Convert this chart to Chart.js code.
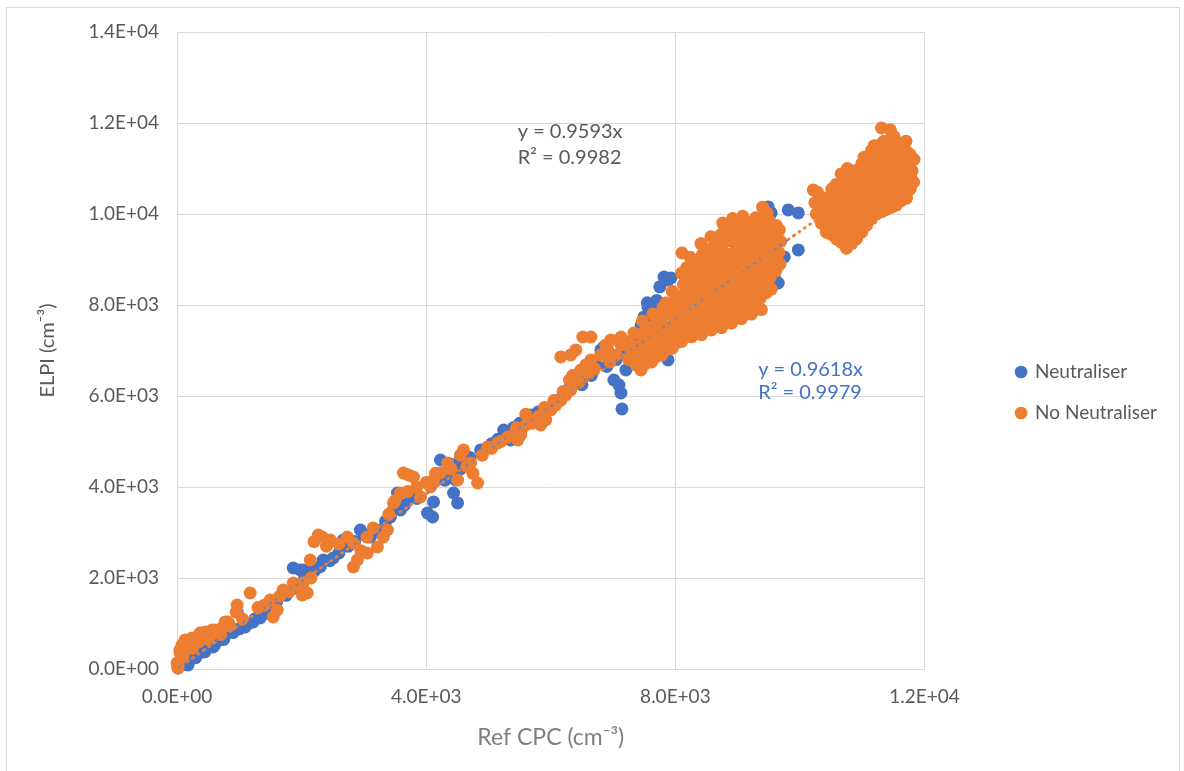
<!DOCTYPE html>
<html><head><meta charset="utf-8">
<script src="https://cdn.jsdelivr.net/npm/chart.js@4/dist/chart.umd.min.js"></script>
<style>
html,body{margin:0;padding:0;background:#fff;overflow:hidden}
#wrap{position:relative;width:1184px;height:771px}
#frame{position:absolute;left:6px;top:7px;width:1174px;height:790px;border:1px solid #d9d9d9;box-sizing:border-box}
canvas{position:absolute;left:0;top:0}
</style></head><body>
<div id="wrap"><div id="frame"></div><canvas id="c" width="1184" height="771"></canvas></div>
<script>
// ---- data (Ref CPC, ELPI) ----
const seriesNames = ['Neutraliser', 'No Neutraliser'];
const neutraliser = [
[16,22],[80,88],[129,198],[177,88],[209,308],[257,242],[290,418],[300,250],[370,462],[418,374],[450,528],[450,380],[579,484],[563,637],[600,520],[660,703],[692,637],[750,650],[772,791],[853,857],[900,800],[965,1253],[1000,880],[1094,923],[1150,1000],[1222,1033],[1250,1100],[1335,1121],[1399,1209],[1450,1330],[1560,1430],[1600,1480],[1700,1650],[1750,1620],[1866,2220],[1900,1780],[1978,2176],[2027,2176],[2050,2000],[2139,2132],[2200,2150],[2300,2250],[2348,2396],[2450,2380],[2509,2440],[2600,2550],[2670,2835],[2750,2700],[2783,2791],[2850,2800],[2944,3055],[3000,2950],[3104,2901],[3150,3050],[3265,3055],[3350,3250],[3426,3341],[3450,3450],[3539,3868],[3587,3495],[3650,3600],[3748,3781],[3850,3750],[4021,3429],[4102,3341],[4118,3671],[4230,4594],[4300,4150],[4400,4500],[4423,4374],[4439,3868],[4472,4154],[4504,3649],[4550,4400],[4552,4660],[4632,4594],[4700,4650],[4874,4814],[4900,4750],[5050,4950],[5150,5050],[5244,5253],[5356,5033],[5400,5300],[5500,5400],[5517,5209],[5600,5500],[5678,5583],[5758,5473],[5800,5650],[5919,5693],[6000,5737],[6100,5900],[6161,5913],[6250,6100],[6321,6242],[6402,6352],[6500,6250],[6563,6462],[6650,6450],[6724,6682],[6804,7012],[6852,7078],[6884,6902],[6900,6650],[7013,6352],[7050,6800],[7094,6242],[7126,6066],[7142,5715],[7200,6950],[7206,6572],[7335,6858],[7400,7300],[7450,7550],[7496,7737],[7528,7451],[7550,8050],[7560,7957],[7608,7671],[7650,7900],[7700,8100],[7750,8400],[7817,8616],[7882,8550],[7882,6792],[7930,8594],[8091,7891],[8252,8110],[8573,8330],[8734,8550],[8895,8770],[9056,9210],[9217,9430],[9377,8660],[9490,10155],[9506,9605],[9538,10023],[9587,8616],[9651,8484],[9748,9056],[9812,10089],[9973,10023],[9973,9210]
];
const noNeutraliser = [
[0,132],[16,22],[48,198],[48,352],[48,418],[80,528],[100,300],[129,637],[161,571],[177,528],[241,681],[250,450],[306,637],[350,600],[370,791],[450,813],[500,650],[531,725],[563,857],[611,857],[650,800],[700,760],[724,901],[772,1033],[820,1033],[850,950],[949,1253],[965,1407],[1050,1100],[1174,1670],[1300,1350],[1400,1400],[1496,1517],[1544,1143],[1608,1297],[1650,1600],[1705,1736],[1800,1700],[1866,1890],[1978,1802],[2011,1627],[2027,1890],[2091,1670],[2139,2396],[2150,2000],[2200,2800],[2268,2945],[2332,2901],[2400,2700],[2461,2835],[2600,2750],[2734,2901],[2831,2242],[2831,2769],[2895,2396],[2950,2600],[3050,2900],[3056,2550],[3150,3100],[3217,2682],[3313,2901],[3378,3055],[3400,3400],[3474,3649],[3500,3700],[3587,3868],[3635,4308],[3700,3900],[3716,4264],[3796,4220],[3850,4000],[3909,3781],[4000,4100],[4070,4000],[4118,4154],[4150,4300],[4230,4308],[4343,4528],[4400,4400],[4504,4154],[4550,4700],[4600,4814],[4650,4450],[4713,4528],[4750,4300],[4826,4088],[4900,4700],[4986,4880],[5050,4850],[5147,4968],[5200,5000],[5308,5099],[5400,5150],[5450,5300],[5469,5033],[5517,5143],[5598,5363],[5600,5600],[5678,5473],[5700,5400],[5800,5550],[5839,5363],[5900,5750],[5919,5473],[6000,5693],[6050,5900],[6080,5803],[6161,5913],[6161,6858],[6200,6100],[6241,6023],[6300,6350],[6321,6132],[6321,6902],[6350,6450],[6402,7012],[6450,6300],[6482,6572],[6514,7297],[6563,6682],[6600,6500],[6643,6792],[6643,7297],[6700,6600],[6800,6900],[6884,7122],[6916,7012],[6950,6750],[6965,7232],[7050,6900],[7126,7122],[7126,7297],[7200,7200],[7250,6800],[7286,7012],[7335,7385],[7350,7100],[7367,6682],[7400,6900],[7447,6572],
[7450,6600],[7440,6850],[7460,7100],[7450,7350],[7470,7650],
[7530,6720],[7540,6970],[7520,7220],[7535,7470],
[7620,6750],[7610,7000],[7630,7250],[7600,7500],[7640,7800],
[7700,6870],[7690,7120],[7710,7370],[7700,7620],
[7780,6900],[7760,7150],[7790,7400],[7770,7700],[7800,7950],
[7860,7020],[7850,7270],[7870,7520],[7860,7800],[7850,8050],
[7950,7050],[7930,7300],[7960,7550],[7940,7800],[7970,8050],[7950,8300],
[8020,7170],[8030,7420],[8010,7670],[8020,7920],[8030,8170],
[8100,7200],[8120,7450],[8090,7700],[8110,7950],[8080,8200],[8130,8450],[8100,8700],[8107,9144],
[8180,7320],[8190,7570],[8170,7820],[8180,8070],[8190,8320],[8170,8570],[8180,8820],
[8260,7300],[8240,7550],[8270,7800],[8250,8050],[8280,8300],[8250,8550],[8270,8800],[8240,9050],
[8340,7420],[8350,7670],[8330,7920],[8340,8170],[8350,8420],[8330,8670],[8340,8920],
[8420,7350],[8400,7600],[8430,7850],[8410,8100],[8440,8350],[8420,8600],[8390,8850],[8430,9100],[8410,9350],
[8500,7470],[8510,7720],[8490,7970],[8500,8220],[8510,8470],[8490,8720],[8500,8970],[8510,9220],
[8580,7450],[8560,7700],[8590,7950],[8570,8200],[8600,8450],[8580,8700],[8550,8950],[8590,9250],[8570,9500],
[8660,7570],[8670,7820],[8650,8070],[8660,8320],[8670,8570],[8650,8820],[8660,9070],[8670,9370],
[8740,7500],[8720,7750],[8750,8000],[8730,8250],[8760,8500],[8740,8750],[8710,9000],[8750,9300],[8730,9550],[8760,9800],
[8820,7620],[8830,7870],[8810,8120],[8820,8370],[8830,8620],[8810,8870],[8820,9120],[8830,9420],[8810,9670],
[8900,7600],[8880,7850],[8910,8100],[8890,8350],[8920,8600],[8900,8850],[8870,9100],[8910,9400],[8890,9650],[8920,9900],
[8980,7720],[8990,7970],[8970,8220],[8980,8470],[8990,8720],[8970,8970],[8980,9220],[8990,9520],[8970,9770],
[9060,7700],[9040,7950],[9070,8200],[9050,8450],[9080,8700],[9060,8950],[9030,9200],[9070,9450],[9050,9700],[9080,9950],
[9140,7820],[9150,8070],[9130,8320],[9140,8570],[9150,8820],[9130,9070],[9140,9320],[9150,9570],[9130,9820],
[9220,7800],[9200,8050],[9230,8300],[9210,8550],[9240,8800],[9220,9050],[9190,9300],[9230,9550],[9210,9800],
[9300,7920],[9310,8170],[9290,8420],[9300,8670],[9310,8920],[9290,9170],[9300,9420],[9310,9670],[9290,9920],
[9380,7900],[9360,8150],[9390,8400],[9370,8650],[9400,8900],[9380,9150],[9350,9400],[9390,9650],[9370,9900],[9400,10150],
[9460,8270],[9470,8520],[9450,8770],[9460,9020],[9470,9270],[9450,9520],[9460,9770],[9470,10020],
[9540,8350],[9520,8600],[9550,8850],[9530,9100],[9560,9350],[9540,9600],[9510,9850],
[9610,8750],[9620,9000],[9600,9250],[9610,9500],[9620,9750],
[9680,8900],[9660,9150],[9690,9400],[9670,9650],
[10262,10000],[10240,10250],[10214,10528],[10280,10480],
[10340,9800],[10350,10050],[10330,10300],
[10423,9600],[10400,9850],[10440,10100],[10410,10350],
[10500,9550],[10510,9800],[10490,10050],[10500,10300],[10510,10550],
[10584,9450],[10560,9700],[10600,9950],[10570,10200],[10600,10450],[10580,10650],
[10660,9380],[10670,9620],[10650,9870],[10660,10120],[10670,10370],[10650,10620],[10660,10880],
[10745,9250],[10720,9500],[10760,9750],[10730,10000],[10770,10250],[10740,10500],[10710,10750],[10760,11000],
[10830,9350],[10840,9600],[10820,9850],[10830,10100],[10840,10350],[10820,10600],[10830,10850],
[10906,9450],[10880,9700],[10920,9950],[10890,10200],[10930,10450],[10900,10700],[10870,10950],
[10990,9600],[11000,9850],[10980,10100],[10990,10350],[11000,10600],[10980,10850],[10990,11100],
[11067,9750],[11040,10000],[11080,10250],[11050,10500],[11090,10750],[11060,11000],[11030,11250],
[11150,9900],[11160,10150],[11140,10400],[11150,10650],[11160,10900],[11140,11150],[11150,11400],
[11228,10000],[11200,10250],[11240,10500],[11210,10750],[11250,11000],[11220,11250],[11190,11500],
[11310,10050],[11320,10300],[11300,10550],[11310,10800],[11320,11050],[11300,11300],[11310,11550],
[11388,10100],[11360,10350],[11400,10600],[11370,10850],[11410,11100],[11380,11350],[11350,11600],[11308,11891],
[11470,10150],[11480,10400],[11460,10650],[11470,10900],[11480,11150],[11460,11400],[11470,11650],[11450,11850],
[11549,10200],[11520,10450],[11560,10700],[11530,10950],[11570,11200],[11540,11450],[11510,11700],
[11630,10300],[11640,10550],[11620,10800],[11630,11050],[11640,11300],[11620,11550],
[11710,10350],[11680,10600],[11720,10850],[11690,11100],[11730,11350],[11700,11600],
[11770,10550],[11780,10800],[11760,11050],[11770,11300],
[11823,10700],[11800,10950],[11830,11200]
];
// trendline end points (Excel linear fits through origin)
const neutTrend = [[0, 0], [9973, 9593]];
const noNeutTrend = [[0, 0], [11830, 11380]];
const xTicks = [0, 4000, 8000, 12000];
const yTicks = [0, 2000, 4000, 6000, 8000, 10000, 12000, 14000];
const eqGray = ['y = 0.9593x', 'R² = 0.9982'];
const eqBlue = ['y = 0.9618x', 'R² = 0.9979'];

// ---- chart ----
const BLUE = '#4472C4', ORANGE = '#ED7D31', GRID = '#d9d9d9', TXT = '#595959';
const pts = arr => arr.map(([x, y]) => ({x, y}));
function sci(v){
  const s = Number(v).toExponential(1); const [m, e] = s.split('e'); const n = parseInt(e, 10);
  return m + 'E' + (n < 0 ? '-' : '+') + String(Math.abs(n)).padStart(2, '0');
}
Chart.defaults.font.family = 'Lato';
Chart.defaults.color = TXT;

const annot = {
  id: 'annot',
  afterDatasetsDraw(chart){
    const {ctx, scales: {x, y}} = chart;
    ctx.save();
    ctx.font = '20px Lato';
    ctx.textAlign = 'left';
    ctx.textBaseline = 'middle';
    const blocks = [
      {lines: eqGray, color: TXT, x: 5469, y: [11802, 11231]},
      {lines: eqBlue, color: BLUE, x: 9329, y: [6572, 6066]}
    ];
    blocks.forEach(b => {
      ctx.fillStyle = b.color;
      b.lines.forEach((t, i) => ctx.fillText(t, x.getPixelForValue(b.x), y.getPixelForValue(b.y[i])));
    });
    ctx.restore();
  }
};

new Chart(document.getElementById('c'), {
  type: 'scatter',
  data: {
    datasets: [
      {label: seriesNames[0], data: pts(neutraliser), backgroundColor: BLUE, borderColor: BLUE, pointRadius: 6.5, borderWidth: 0, order: 3, clip: false},
      {label: seriesNames[1], data: pts(noNeutraliser), backgroundColor: ORANGE, borderColor: ORANGE, pointRadius: 6.5, borderWidth: 0, order: 2, clip: false},
      {label: 'trendN', type: 'line', showLine: true, data: pts(neutTrend), borderColor: '#6f86b3', borderWidth: 2, borderDash: [4, 4], pointRadius: 0, fill: false, order: 1},
      {label: 'trendNN', type: 'line', showLine: true, data: pts(noNeutTrend), borderColor: ORANGE, borderWidth: 3, borderDash: [0.5, 6], borderCapStyle: 'round', pointRadius: 0, fill: false, order: 0}
    ]
  },
  options: {
    responsive: false,
    animation: false,
    devicePixelRatio: 1,
    layout: {padding: {top: 32, right: 17, bottom: 18, left: 30}},
    plugins: {
      tooltip: {enabled: false},
      legend: {
        position: 'right',
        labels: {
          usePointStyle: true, pointStyle: 'circle', boxWidth: 9, boxHeight: 9, padding: 22,
          color: TXT, font: {size: 19},
          filter: item => item.datasetIndex < 2,
          sort: (a, b) => a.datasetIndex - b.datasetIndex
        }
      }
    },
    scales: {
      x: {
        type: 'linear', min: 0, max: 12000,
        afterBuildTicks: s => { s.ticks = xTicks.map(v => ({value: v})); },
        afterFit: s => { s.height = 84; },
        grid: {color: GRID, drawTicks: false, lineWidth: 1},
        border: {color: GRID, width: 1},
        ticks: {padding: 16, color: TXT, font: {size: 19}, callback: v => sci(v), maxRotation: 0},
        title: {display: true, text: 'Ref CPC (cm⁻³)', color: '#7f7f7f', font: {size: 23}, padding: {top: 0, bottom: 2}}
      },
      y: {
        type: 'linear', min: 0, max: 14000,
        afterBuildTicks: s => { s.ticks = yTicks.map(v => ({value: v})); },
        afterFit: s => { s.width = 147; },
        grid: {color: GRID, drawTicks: false, lineWidth: 1},
        border: {color: GRID, width: 1},
        ticks: {padding: 18, color: TXT, font: {size: 19}, callback: v => sci(v)},
        title: {display: true, text: 'ELPI (cm⁻³)', color: TXT, font: {size: 20}, padding: {top: 6, bottom: 0}}
      },
      gap: {
        type: 'linear', position: 'right', display: true,
        afterFit: s => { s.width = 70; },
        grid: {display: false, drawTicks: false}, border: {display: false},
        ticks: {display: false}
      }
    }
  },
  plugins: [annot]
});
</script>
</body></html>
